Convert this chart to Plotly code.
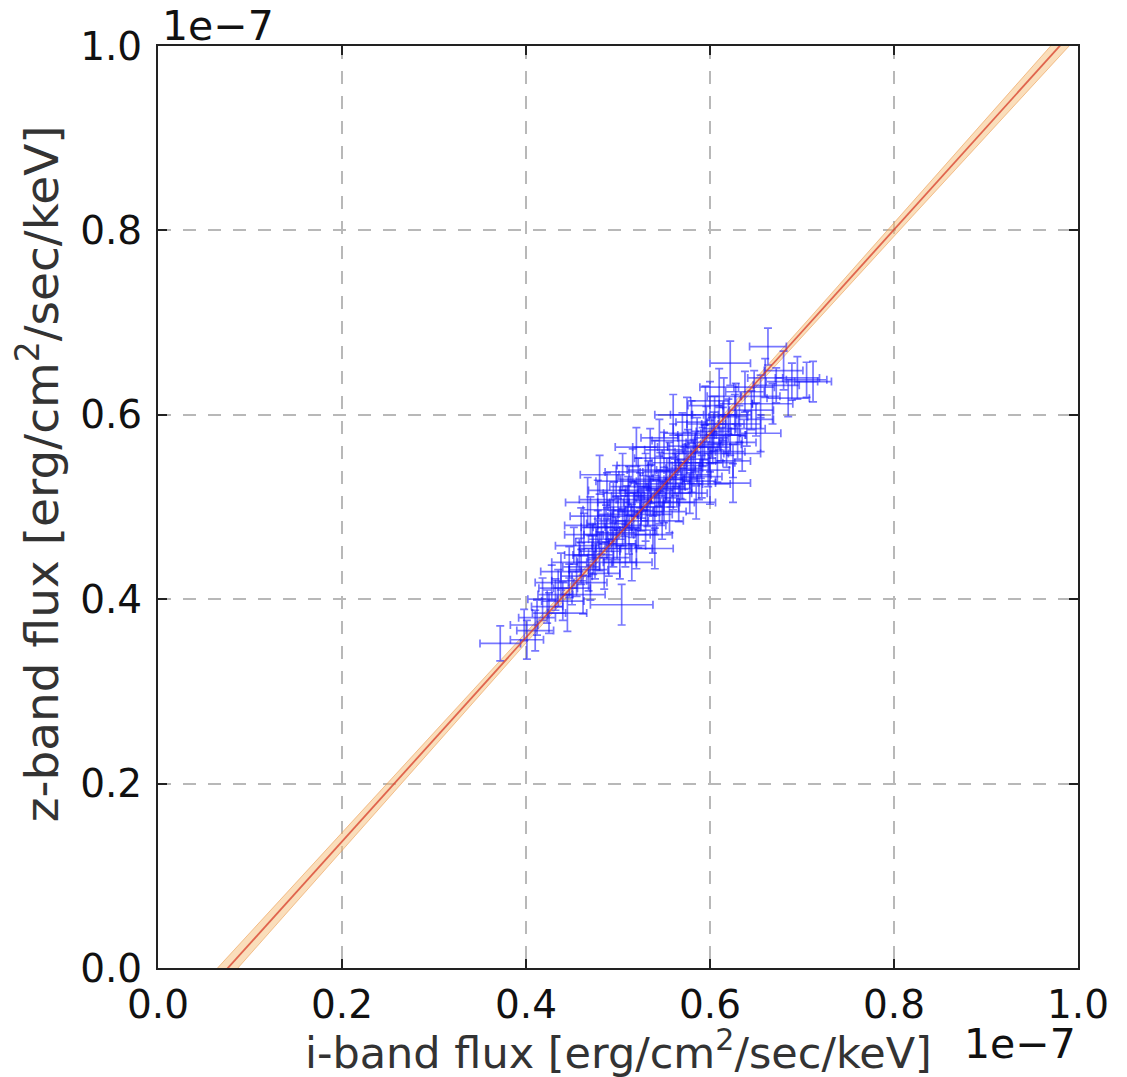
import numpy as np
import plotly.graph_objects as go

# Flux values in units of 1e-7 erg/cm^2/sec/keV
i_flux = [
    0.372, 0.401, 0.398, 0.410, 0.423, 0.445, 0.418, 0.432, 0.440, 0.428,
    0.450, 0.455, 0.438, 0.447, 0.462, 0.470, 0.468, 0.458, 0.452, 0.467,
    0.504, 0.475, 0.480, 0.472, 0.463, 0.485, 0.490, 0.488, 0.478, 0.470,
    0.495, 0.498, 0.492, 0.485, 0.478, 0.502, 0.508, 0.505, 0.500, 0.495,
    0.488, 0.512, 0.515, 0.510, 0.503, 0.498, 0.520, 0.522, 0.525, 0.518,
    0.512, 0.505, 0.530, 0.532, 0.528, 0.522, 0.516, 0.538, 0.540, 0.542,
    0.536, 0.530, 0.548, 0.550, 0.552, 0.546, 0.540, 0.556, 0.560, 0.562,
    0.556, 0.550, 0.566, 0.570, 0.572, 0.566, 0.560, 0.578, 0.580, 0.582,
    0.576, 0.570, 0.588, 0.590, 0.592, 0.586, 0.580, 0.598, 0.600, 0.602,
    0.596, 0.608, 0.612, 0.610, 0.605, 0.618, 0.622, 0.620, 0.625, 0.630,
    0.632, 0.628, 0.622, 0.640, 0.645, 0.650, 0.655, 0.663, 0.668, 0.672,
    0.680, 0.689, 0.695, 0.705, 0.712, 0.685, 0.660, 0.648, 0.638, 0.615,
    0.635, 0.482, 0.494, 0.507, 0.517, 0.526, 0.535, 0.544, 0.553, 0.563,
    0.574, 0.584, 0.594, 0.604, 0.614, 0.476, 0.487, 0.499, 0.511, 0.524,
    0.533, 0.545, 0.557, 0.568, 0.579, 0.591, 0.603, 0.617, 0.627, 0.460,
    0.473, 0.447, 0.435, 0.425, 0.412, 0.520, 0.535, 0.585, 0.600, 0.545,
    0.575, 0.600, 0.560, 0.655, 0.625, 0.480, 0.460, 0.540, 0.515, 0.595,
    0.610,
]
z_flux = [
    0.352, 0.356, 0.372, 0.366, 0.392, 0.385, 0.400, 0.405, 0.398, 0.418,
    0.412, 0.425, 0.430, 0.440, 0.405, 0.418, 0.432, 0.448, 0.458, 0.505,
    0.394, 0.440, 0.452, 0.462, 0.470, 0.428, 0.445, 0.465, 0.478, 0.490,
    0.455, 0.472, 0.485, 0.497, 0.508, 0.440, 0.458, 0.478, 0.492, 0.505,
    0.518, 0.470, 0.485, 0.500, 0.515, 0.528, 0.455, 0.475, 0.495, 0.508,
    0.522, 0.538, 0.480, 0.500, 0.515, 0.530, 0.545, 0.470, 0.492, 0.510,
    0.525, 0.540, 0.485, 0.505, 0.522, 0.538, 0.553, 0.495, 0.515, 0.532,
    0.548, 0.562, 0.505, 0.525, 0.542, 0.558, 0.572, 0.515, 0.535, 0.552,
    0.566, 0.580, 0.528, 0.548, 0.565, 0.578, 0.592, 0.540, 0.558, 0.575,
    0.590, 0.548, 0.568, 0.585, 0.600, 0.560, 0.578, 0.598, 0.526, 0.570,
    0.590, 0.612, 0.656, 0.585, 0.605, 0.595, 0.620, 0.674, 0.612, 0.632,
    0.648, 0.636, 0.640, 0.638, 0.636, 0.618, 0.640, 0.630, 0.625, 0.620,
    0.558, 0.470, 0.478, 0.490, 0.496, 0.505, 0.512, 0.520, 0.530, 0.540,
    0.548, 0.560, 0.570, 0.582, 0.590, 0.455, 0.482, 0.460, 0.512, 0.518,
    0.528, 0.500, 0.520, 0.530, 0.545, 0.533, 0.565, 0.578, 0.600, 0.435,
    0.448, 0.420, 0.412, 0.385, 0.380, 0.565, 0.565, 0.505, 0.525, 0.575,
    0.600, 0.615, 0.600, 0.580, 0.550, 0.535, 0.480, 0.455, 0.440, 0.610,
    0.630,
]
i_err = [
    0.022, 0.018, 0.015, 0.020, 0.017, 0.021, 0.016, 0.019, 0.023, 0.018,
    0.020, 0.017, 0.022, 0.019, 0.024, 0.018, 0.021, 0.016, 0.020, 0.024,
    0.034, 0.019, 0.022, 0.018, 0.021, 0.017, 0.023, 0.020, 0.018, 0.022,
    0.019, 0.021, 0.017, 0.023, 0.020, 0.018, 0.022, 0.019, 0.021, 0.017,
    0.020, 0.023, 0.018, 0.021, 0.019, 0.022, 0.017, 0.020, 0.024, 0.018,
    0.021, 0.019, 0.022, 0.018, 0.020, 0.023, 0.017, 0.021, 0.019, 0.022,
    0.018, 0.020, 0.023, 0.017, 0.021, 0.019, 0.022, 0.018, 0.020, 0.024,
    0.019, 0.021, 0.017, 0.022, 0.020, 0.018, 0.023, 0.019, 0.021, 0.017,
    0.022, 0.020, 0.018, 0.024, 0.019, 0.021, 0.017, 0.023, 0.020, 0.018,
    0.021, 0.019, 0.022, 0.018, 0.024, 0.020, 0.017, 0.021, 0.019, 0.020,
    0.023, 0.018, 0.022, 0.020, 0.024, 0.019, 0.021, 0.020, 0.022, 0.025,
    0.021, 0.028, 0.024, 0.022, 0.020, 0.023, 0.019, 0.022, 0.021, 0.018,
    0.020, 0.019, 0.021, 0.018, 0.022, 0.020, 0.017, 0.023, 0.019, 0.021,
    0.018, 0.022, 0.020, 0.019, 0.023, 0.017, 0.021, 0.020, 0.018, 0.022,
    0.019, 0.021, 0.023, 0.018, 0.020, 0.022, 0.019, 0.021, 0.018, 0.020,
    0.022, 0.019, 0.021, 0.018, 0.020, 0.023, 0.019, 0.021, 0.022, 0.020,
    0.018, 0.021, 0.020, 0.022, 0.019, 0.021, 0.018, 0.020, 0.022, 0.019,
    0.021,
]
z_err = [
    0.019, 0.021, 0.017, 0.022, 0.018, 0.020, 0.023, 0.017, 0.021, 0.019,
    0.018, 0.022, 0.020, 0.017, 0.021, 0.019, 0.023, 0.018, 0.020, 0.027,
    0.022, 0.018, 0.021, 0.019, 0.023, 0.017, 0.020, 0.022, 0.018, 0.021,
    0.020, 0.017, 0.022, 0.019, 0.021, 0.018, 0.023, 0.020, 0.017, 0.022,
    0.019, 0.021, 0.018, 0.023, 0.020, 0.017, 0.022, 0.019, 0.021, 0.018,
    0.022, 0.020, 0.017, 0.021, 0.019, 0.023, 0.018, 0.020, 0.022, 0.019,
    0.021, 0.018, 0.020, 0.022, 0.017, 0.021, 0.019, 0.023, 0.018, 0.020,
    0.022, 0.019, 0.021, 0.017, 0.023, 0.020, 0.018, 0.022, 0.019, 0.021,
    0.018, 0.022, 0.020, 0.017, 0.021, 0.019, 0.023, 0.018, 0.020, 0.022,
    0.019, 0.021, 0.018, 0.023, 0.020, 0.017, 0.022, 0.019, 0.021, 0.018,
    0.020, 0.022, 0.024, 0.019, 0.021, 0.018, 0.023, 0.020, 0.022, 0.019,
    0.021, 0.020, 0.023, 0.019, 0.022, 0.020, 0.021, 0.018, 0.022, 0.020,
    0.019, 0.021, 0.018, 0.022, 0.020, 0.017, 0.021, 0.019, 0.023, 0.018,
    0.020, 0.022, 0.019, 0.021, 0.018, 0.023, 0.020, 0.017, 0.021, 0.019,
    0.022, 0.018, 0.020, 0.021, 0.019, 0.023, 0.017, 0.020, 0.022, 0.019,
    0.021, 0.018, 0.020, 0.022, 0.019, 0.021, 0.020, 0.018, 0.022, 0.020,
    0.019, 0.021, 0.022, 0.020, 0.018, 0.021, 0.019, 0.022, 0.020, 0.021,
    0.020,
]
assert len(i_flux) == len(z_flux) == len(i_err) == len(z_err), (
    len(i_flux), len(z_flux), len(i_err), len(z_err))

# Linear fit z = slope * i + intercept (units of 1e-7), with confidence band
fit_slope = 1.106
fit_intercept = -0.084
band_min = 0.004      # half-width at the data centroid
band_growth = 0.024   # growth of half-width away from centroid
band_center = 0.55

tick_vals = [0.0, 0.2, 0.4, 0.6, 0.8, 1.0]
tick_text = ["0.0", "0.2", "0.4", "0.6", "0.8", "1.0"]

xf = np.linspace(0.0, 1.0, 201)
yf = fit_slope * xf + fit_intercept
hw = np.sqrt(band_min ** 2 + (band_growth * (xf - band_center)) ** 2)

fig = go.Figure()
fig.add_trace(go.Scatter(x=xf, y=yf + hw, mode="lines",
                         line=dict(color="rgba(235,150,70,0.55)", width=1),
                         showlegend=False, hoverinfo="skip"))
fig.add_trace(go.Scatter(x=xf, y=yf - hw, mode="lines", fill="tonexty",
                         fillcolor="rgba(245,190,120,0.5)",
                         line=dict(color="rgba(235,150,70,0.55)", width=1),
                         showlegend=False, hoverinfo="skip"))
fig.add_trace(go.Scatter(
    x=i_flux, y=z_flux, mode="markers",
    marker=dict(size=1, color="rgba(0,0,255,0.0)"),
    error_x=dict(type="data", array=i_err, color="rgba(20,20,255,0.58)",
                 thickness=1.7, width=4),
    error_y=dict(type="data", array=z_err, color="rgba(20,20,255,0.58)",
                 thickness=1.7, width=4),
    showlegend=False))
fig.add_trace(go.Scatter(x=xf, y=yf, mode="lines",
                         line=dict(color="rgba(215,60,40,0.75)", width=1.8),
                         showlegend=False, hoverinfo="skip"))

axis_common = dict(
    range=[0, 1], tickvals=tick_vals, ticktext=tick_text,
    showgrid=True, gridcolor="#b8b8b8", gridwidth=2, griddash="13px,12px",
    zeroline=False, showline=True, linecolor="#222222", linewidth=2,
    mirror="allticks", ticks="inside", ticklen=9, tickwidth=1.5,
    tickcolor="#222222",
    tickfont=dict(family="DejaVu Sans", size=39, color="#111111"),
)
fig.update_xaxes(**axis_common, ticklabelstandoff=1)
fig.update_yaxes(**axis_common, ticklabelstandoff=6)

label_font = dict(family="DejaVu Sans", size=43, color="#333333")
fig.add_annotation(text="i-band flux [erg/cm<sup>2</sup>/sec/keV]",
                   xref="paper", yref="paper", x=0.5, y=-0.089,
                   xanchor="center", yanchor="middle", showarrow=False,
                   font=label_font)
fig.add_annotation(text="z-band flux [erg/cm<sup>2</sup>/sec/keV]",
                   xref="paper", yref="paper", x=-0.13, y=0.536,
                   xanchor="center", yanchor="middle", showarrow=False,
                   textangle=-90, font=dict(label_font, size=47))
offset_font = dict(family="DejaVu Sans", size=41, color="#111111")
fig.add_annotation(text="1e\u22127", xref="paper", yref="paper",
                   x=0.002, y=1.0, xanchor="left", yanchor="bottom",
                   showarrow=False, font=offset_font, yshift=-6)
fig.add_annotation(text="1e\u22127", xref="paper", yref="paper",
                   x=1.0, y=-0.054, xanchor="right", yanchor="top",
                   showarrow=False, font=offset_font)

fig.update_layout(
    width=1127, height=1077,
    margin=dict(l=158, r=49, t=46, b=109),
    paper_bgcolor="white", plot_bgcolor="white",
)
fig.write_html("out.html")
